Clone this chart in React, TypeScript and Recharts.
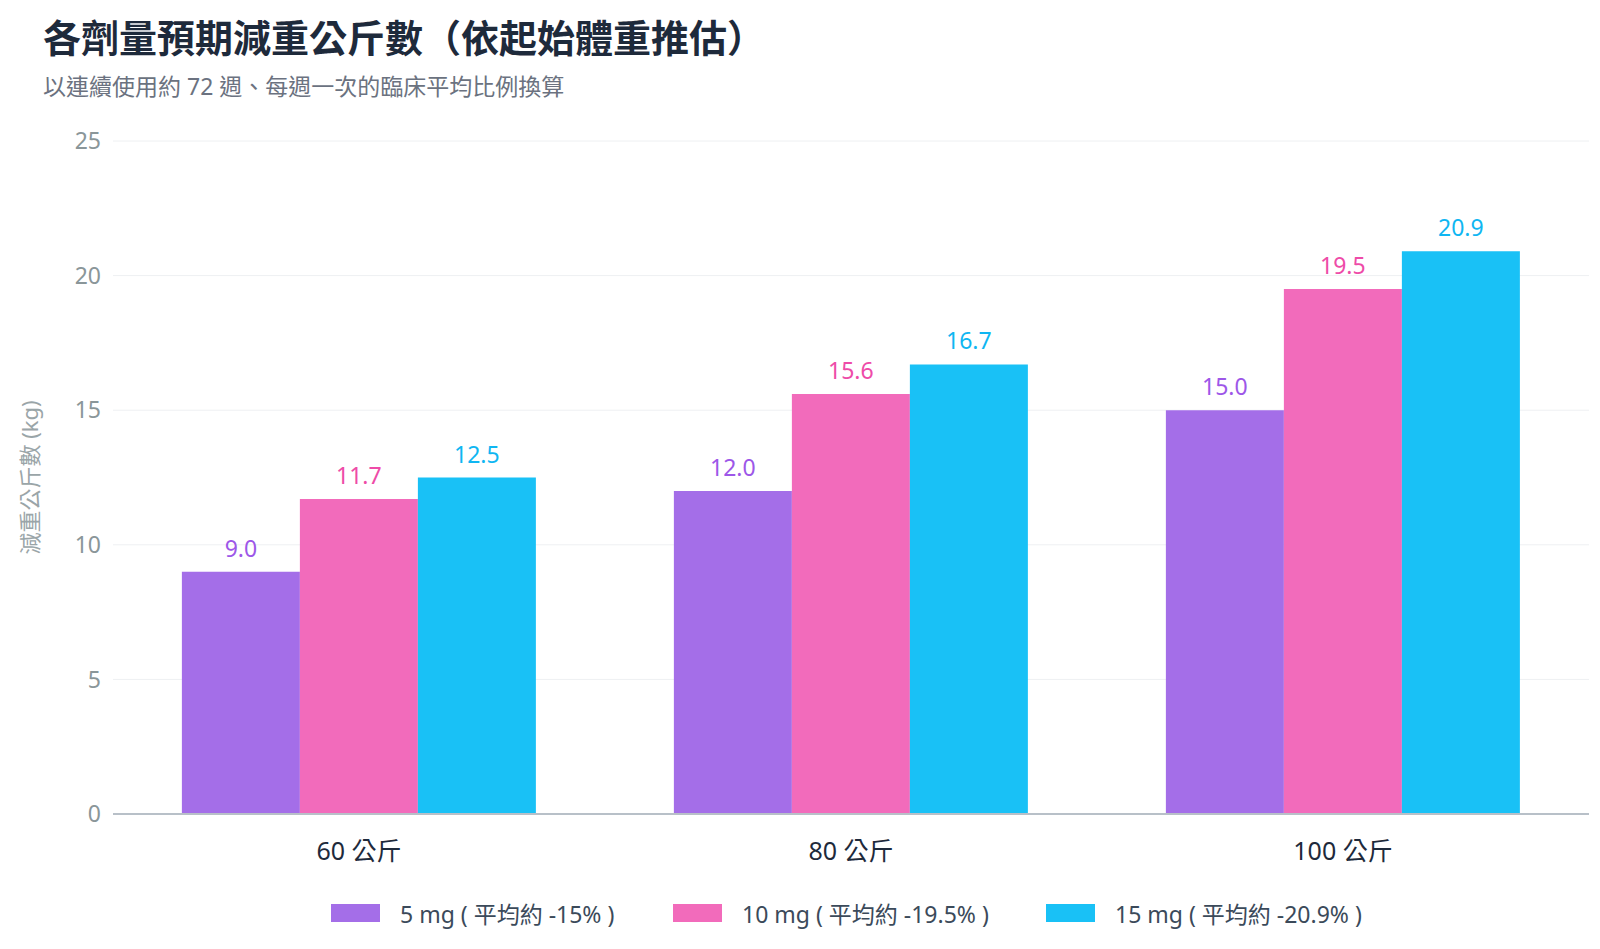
import React from "react";
import { BarChart, Bar, XAxis, YAxis, CartesianGrid, LabelList } from "recharts";

const categories = ["60 公斤", "80 公斤", "100 公斤"];
const dose5 = [9.0, 12.0, 15.0];
const dose10 = [11.7, 15.6, 19.5];
const dose15 = [12.5, 16.7, 20.9];
const yTicks = [0, 5, 10, 15, 20, 25];
const seriesNames = ["5 mg ( 平均約 -15% )", "10 mg ( 平均約 -19.5% )", "15 mg ( 平均約 -20.9% )"];

const data = categories.map((c, i) => ({ name: c, a: dose5[i], b: dose10[i], c: dose15[i] }));
const FONT = '"Noto Sans", "Noto Sans CJK TC", sans-serif';
const colors = ["#a46ee8", "#f26bbb", "#19c1f6"];
const labelColors = ["#9d57e8", "#ee4ba8", "#0fb6f2"];

export default function App() {
  return (
    <div style={{ position: "absolute", left: 0, top: 0, width: 1600, height: 949, background: "#fff", fontFamily: FONT }}>
      <div style={{ position: "absolute", left: 43, top: 8, fontSize: 38, fontWeight: 700, color: "#1e2a3b" }}>
        各劑量預期減重公斤數（依起始體重推估）
      </div>
      <div style={{ position: "absolute", left: 43, top: 68, fontSize: 23, color: "#6b7280" }}>
        以連續使用約 72 週、每週一次的臨床平均比例換算
      </div>
      <div style={{ position: "absolute", left: 0, top: 0 }}>
        <BarChart width={1600} height={949} data={data} margin={{ top: 141, right: 11, bottom: 80, left: 0 }} barCategoryGap="14%" barGap={0}>
          <CartesianGrid vertical={false} stroke="#eef0f2" />
          <XAxis dataKey="name" axisLine={{ stroke: "#b8c0c8", strokeWidth: 2 }} tickLine={false}
            tick={{ fontSize: 25, fill: "#1e2a3b", fontFamily: FONT }} dy={20} height={55} />
          <YAxis width={113} domain={[0, 25]} ticks={yTicks} axisLine={false} tickLine={false}
            tick={{ fontSize: 23, fill: "#8a9699", fontFamily: FONT }} dx={-4}
            label={{ value: "減重公斤數 (kg)", angle: -90, position: "insideLeft", dx: 25, style: { fontSize: 22, fill: "#9aa5a8", fontFamily: FONT, textAnchor: "middle" } }} />
          {(["a", "b", "c"] as const).map((k, i) => (
            <Bar key={k} dataKey={k} fill={colors[i]} isAnimationActive={false}>
              <LabelList dataKey={k} position="top" offset={15} formatter={(v: any) => Number(v).toFixed(1)}
                style={{ fontSize: 23, fill: labelColors[i], fontFamily: FONT }} />
            </Bar>
          ))}
        </BarChart>
      </div>
      {seriesNames.map((n, i) => (
        <div key={n} style={{ position: "absolute", top: 896, left: [331, 673, 1046][i], display: "flex", alignItems: "center", fontSize: 23, color: "#3b4a5a" }}>
          <span style={{ display: "inline-block", width: 49, height: 18, background: colors[i], marginRight: 20 }} />
          {n}
        </div>
      ))}
    </div>
  );
}
